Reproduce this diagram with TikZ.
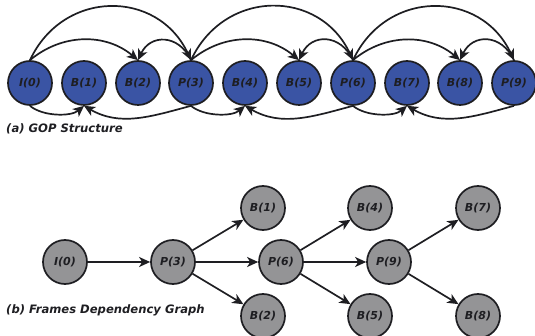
\documentclass[tikz,border=0pt]{standalone}
\usepackage{fontspec}
\setmainfont{DejaVu Sans}
\usetikzlibrary{arrows.meta}

\definecolor{gopblue}{RGB}{58,84,164}
\definecolor{depgray}{RGB}{148,148,150}
\definecolor{ink}{RGB}{30,30,34}

\begin{document}
\begin{tikzpicture}[x=1pt,y=1pt,
    frm/.style={circle,draw=ink,line width=1.7pt,minimum size=44pt,inner sep=0pt,
      font=\fontsize{11}{13}\selectfont\bfseries\itshape,text=ink},
    gop/.style={frm,fill=gopblue},
    dep/.style={frm,fill=depgray},
    ref/.style={draw=ink,line width=1.7pt,-{Stealth[length=11pt,width=10pt,inset=3pt]}},
    caption/.style={anchor=west,inner sep=0pt,text=ink,
      font=\fontsize{11.6}{14}\selectfont\bfseries\itshape}]
  \useasboundingbox (0,0) rectangle (535,-336);

  % GOP in display order
  \node[gop] (i0) at (30,-83) {I(0)};
  \node[gop] (b1) at (84,-83) {B(1)};
  \node[gop] (b2) at (138,-83) {B(2)};
  \node[gop] (p3) at (191,-83) {P(3)};
  \node[gop] (b4) at (245,-83) {B(4)};
  \node[gop] (b5) at (299,-83) {B(5)};
  \node[gop] (p6) at (353,-83) {P(6)};
  \node[gop] (b7) at (407,-83) {B(7)};
  \node[gop] (b8) at (460,-83) {B(8)};
  \node[gop] (p9) at (514,-83) {P(9)};

  % references over the top
  \draw[ref] (i0.north) to[out=65,in=115,looseness=1.25] (p3.north);
  \draw[ref] (i0.north) to[out=40,in=140] (b2.north);
  \draw[ref] (p3.north) to[out=115,in=65,looseness=1.4] (b2.north);
  \draw[ref] (p3.north) to[out=65,in=115,looseness=1.25] (p6.north);
  \draw[ref] (p3.north) to[out=40,in=140] (b5.north);
  \draw[ref] (p6.north) to[out=115,in=65,looseness=1.4] (b5.north);
  \draw[ref] (p6.north) to[out=65,in=115,looseness=1.25] (p9.north);
  \draw[ref] (p6.north) to[out=40,in=140] (b8.north);
  \draw[ref] (p9.north) to[out=115,in=65,looseness=1.4] (b8.north);

  % references underneath
  \draw[ref] (i0.south) to[out=-40,in=-140,looseness=0.8] (b1.south);
  \draw[ref] (p3.south) to[out=-165,in=-30] (b1.south);
  \draw[ref] (p3.south) to[out=-40,in=-140,looseness=0.8] (b4.south);
  \draw[ref] (p6.south) to[out=-165,in=-30] (b4.south);
  \draw[ref] (p6.south) to[out=-40,in=-140,looseness=0.8] (b7.south);
  \draw[ref] (p9.south) to[out=-165,in=-30] (b7.south);

  \node[caption] (capa) at (6,-129) {(a) GOP Structure};

  % dependency graph
  \node[dep] (di0) at (65,-262) {I(0)};
  \node[dep] (dp3) at (173,-262) {P(3)};
  \node[dep] (dp6) at (281,-262) {P(6)};
  \node[dep] (dp9) at (389,-262) {P(9)};
  \node[dep] (db1) at (263,-208) {B(1)};
  \node[dep] (db2) at (263,-316) {B(2)};
  \node[dep] (db4) at (370,-208) {B(4)};
  \node[dep] (db5) at (370,-316) {B(5)};
  \node[dep] (db7) at (478,-208) {B(7)};
  \node[dep] (db8) at (478,-316) {B(8)};

  \draw[ref] (di0) -- (dp3);
  \draw[ref] (dp3) -- (db1);
  \draw[ref] (dp3) -- (dp6);
  \draw[ref] (dp3) -- (db2);
  \draw[ref] (dp6) -- (db4);
  \draw[ref] (dp6) -- (dp9);
  \draw[ref] (dp6) -- (db5);
  \draw[ref] (dp9) -- (db7);
  \draw[ref] (dp9) -- (db8);

  \node[caption] (capb) at (6,-310) {(b) Frames Dependency Graph};
\end{tikzpicture}
\end{document}
